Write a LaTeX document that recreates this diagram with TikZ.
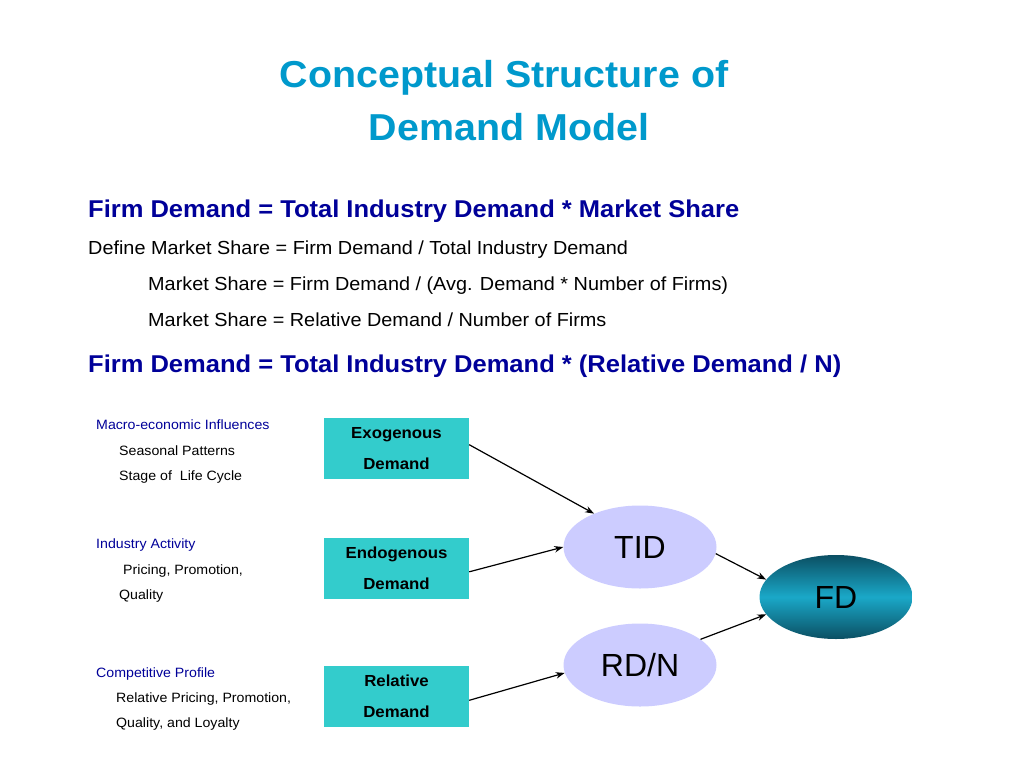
\documentclass[tikz,border=0pt]{standalone}
\usepackage{fontspec}
\setmainfont{Liberation Sans}[FakeStretch=1.05]
\newfontfamily\plainarial{Liberation Sans}
\usetikzlibrary{shapes.geometric,arrows.meta}
\definecolor{titleblue}{HTML}{0099CC}
\definecolor{navy}{HTML}{000099}
\definecolor{boxcyan}{HTML}{33CCCC}
\definecolor{lav}{HTML}{CCCCFF}
\definecolor{tealdark}{HTML}{0B4F63}
\definecolor{tealmid}{HTML}{1AA8C8}
\begin{document}
\begin{tikzpicture}[x=1pt,y=-1pt,
  txt/.style={anchor=base west,inner sep=0pt},
  titletxt/.style={anchor=base,inner sep=0pt,text=titleblue,font=\bfseries\fontsize{37.5}{40}\selectfont},
  eqbold/.style={txt,text=navy,font=\bfseries\fontsize{24.3}{28}\selectfont},
  eqplain/.style={txt,font=\fontsize{18.9}{22}\selectfont},
  head/.style={txt,text=navy,font=\fontsize{13.5}{16}\selectfont},
  sub/.style={txt,font=\fontsize{13.5}{16}\selectfont},
  demandbox/.style={rectangle,fill=boxcyan,minimum width=145pt,minimum height=61pt,inner sep=0pt,align=center,font=\bfseries\fontsize{16}{31}\selectfont},
  lavell/.style={ellipse,fill=lav,minimum width=153pt,minimum height=83pt,inner sep=0pt,font=\plainarial\fontsize{32}{36}\selectfont},
  arr/.style={-{Stealth[length=9pt,width=6.5pt]},line width=1.2pt}
]
\useasboundingbox (0,0) rectangle (1024,768);
\fill[white] (0,0) rectangle (1024,768);

\node[titletxt] (t1) at (504,87) {Conceptual Structure of};
\node[titletxt] (t2) at (509,140) {Demand Model};

\node[eqbold] (e1) at (88,217) {Firm Demand = Total Industry Demand * Market Share};
\node[eqplain] (e2) at (88,254) {Define Market Share = Firm Demand / Total Industry Demand};
\node[eqplain] (e3) at (148,290) {Market Share = Firm Demand / (Avg. Demand * Number of Firms)};
\node[eqplain] (e4) at (148,326) {Market Share = Relative Demand / Number of Firms};
\node[eqbold] (e5) at (88,372) {Firm Demand = Total Industry Demand * (Relative Demand / N)};

\node[head] (h1) at (96,429) {Macro-economic Influences};
\node[sub] (s11) at (119,455) {Seasonal Patterns};
\node[sub] (s12) at (119,480) {Stage of\ \ Life Cycle};
\node[head] (h2) at (96,548) {Industry Activity};
\node[sub] (s21) at (123,574) {Pricing, Promotion,};
\node[sub] (s22) at (119,599) {Quality};
\node[head] (h3) at (96,677) {Competitive Profile};
\node[sub] (s31) at (116,702) {Relative Pricing, Promotion,};
\node[sub] (s32) at (116,727) {Quality, and Loyalty};

\node[demandbox] (exo) at (396.5,448.5) {Exogenous\\Demand};
\node[demandbox] (endo) at (396.5,568) {Endogenous\\Demand};
\node[demandbox] (rel) at (396.5,696.5) {Relative\\Demand};

\node[lavell] (tid) at (640,547) {TID};
\node[lavell] (rdn) at (640,665) {RD/N};
\node[ellipse,minimum width=153pt,minimum height=84pt,inner sep=0pt,
  top color=tealdark,bottom color=tealdark,middle color=tealmid,
  font=\plainarial\fontsize{32}{36}\selectfont] (fd) at (836,597) {FD};

\draw[arr] (exo.3) -- (tid.144);
\draw[arr] (endo.-3) -- (tid.180);
\draw[arr] (rel.-3) -- (rdn.186);
\draw[arr] (tid.-5) -- (fd.166);
\draw[arr] (rdn.23) -- (fd.194);
\end{tikzpicture}
\end{document}
